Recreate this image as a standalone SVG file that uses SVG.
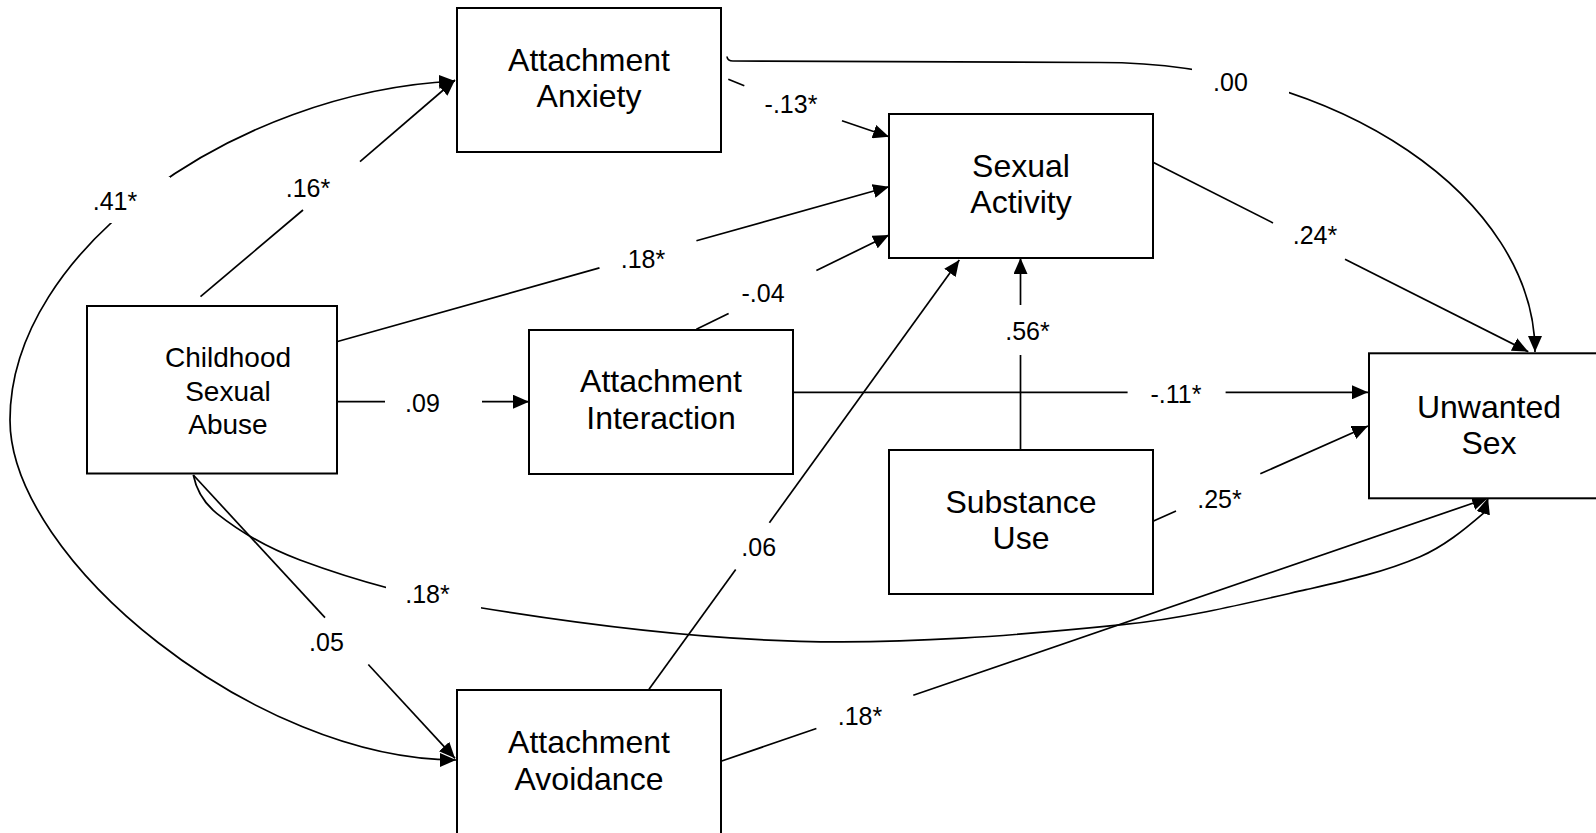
<svg xmlns="http://www.w3.org/2000/svg" width="1596" height="833" viewBox="0 0 1596 833">
<style>
.box{fill:#fff;stroke:#000;stroke-width:2}
.nt{font-family:"Liberation Sans",Arial,sans-serif;font-size:32px;text-anchor:middle;fill:#000}
.nt.sm{font-size:28px}
.lb{font-family:"Liberation Sans",Arial,sans-serif;font-size:25px;text-anchor:middle;fill:#000}
.c{fill:none;stroke:#000;stroke-width:1.7}
.c.a{marker-end:url(#arr)}
</style>
<defs>
<marker id="arr" markerUnits="userSpaceOnUse" markerWidth="16" markerHeight="14" refX="16" refY="7" orient="auto-start-reverse">
<path d="M0,0 L16,7 L0,14 z" fill="#000"/>
</marker>
<mask id="gaps" maskUnits="userSpaceOnUse" x="0" y="0" width="1596" height="833">
<rect x="0" y="0" width="1596" height="833" fill="#fff"/>
<rect x="100" y="177" width="70" height="46" fill="#000"/>
<rect x="1192" y="50" width="97" height="60" fill="#000"/>
<rect x="386" y="570" width="95" height="50" fill="#000"/>
</mask>
</defs>
<rect width="1596" height="833" fill="#fff"/>

<g id="connectors">
<g mask="url(#gaps)">
<path class="c" d="M455,81 C235,92 10,250 10,420 C10,560 256,760 456,760" marker-start="url(#arr)" marker-end="url(#arr)"/>
<path class="c a" d="M727,56.5 Q727.5,61 733,61 L1100,62.5 C1340,62.5 1535,200 1535,352"/>
<path class="c a" d="M193.3,475 C196.3,489.7 205,503.9 216.7,513.3 C241.6,533.1 270.2,548.9 300,560 C358.7,581.9 420.1,598 482,608 C587.2,625.1 693.4,638.5 800,641.3 C907.6,644.1 1015.4,635.6 1122.5,624.7 C1184.5,618.4 1245.3,603.6 1306,589.7 C1344.6,580.9 1383.6,572.3 1420,556.7 C1443.5,546.6 1463.9,530 1483.3,513.3 C1487.3,509.8 1486.4,503.1 1488,498"/>
</g>
<line class="c" x1="200.5" y1="296.7" x2="303" y2="210"/>
<line class="c a" x1="360" y1="161.7" x2="455" y2="80"/>
<line class="c" x1="728.3" y1="79.3" x2="744.3" y2="85.7"/>
<line class="c a" x1="842" y1="120.7" x2="889" y2="136.7"/>
<line class="c" x1="336.7" y1="341.7" x2="599.5" y2="267.9"/>
<line class="c a" x1="696.4" y1="240.8" x2="889" y2="186.7"/>
<line class="c" x1="696.4" y1="329.3" x2="728.6" y2="313.5"/>
<line class="c a" x1="816.4" y1="270.5" x2="889" y2="235"/>
<line class="c" x1="337" y1="401.7" x2="385" y2="401.7"/>
<line class="c a" x1="482" y1="401.7" x2="529" y2="401.7"/>
<line class="c" x1="793" y1="392.3" x2="1127.6" y2="392.3"/>
<line class="c a" x1="1225.6" y1="392.3" x2="1368" y2="392.3"/>
<line class="c" x1="1153" y1="162.3" x2="1273" y2="222.9"/>
<line class="c a" x1="1345" y1="259.2" x2="1528.3" y2="351.7"/>
<line class="c" x1="1020.5" y1="450" x2="1020.5" y2="355"/>
<line class="c a" x1="1020.5" y1="305" x2="1020.5" y2="258"/>
<line class="c" x1="1153" y1="521.3" x2="1176" y2="511"/>
<line class="c a" x1="1260.3" y1="473.8" x2="1368" y2="426"/>
<line class="c" x1="721" y1="761.3" x2="816.4" y2="728.5"/>
<line class="c a" x1="913.3" y1="695.3" x2="1488" y2="498"/>
<line class="c" x1="649" y1="689.3" x2="735.7" y2="569.4"/>
<line class="c a" x1="769.4" y1="522.7" x2="959.3" y2="260"/>
<line class="c" x1="193.3" y1="475" x2="325" y2="617.6"/>
<line class="c a" x1="368.3" y1="664.5" x2="455" y2="758.3"/>

<text class="lb" x="115" y="210">.41*</text>
<text class="lb" x="308" y="196.7">.16*</text>
<text class="lb" x="791" y="113">-.13*</text>
<text class="lb" x="1230.5" y="90.7">.00</text>
<text class="lb" x="643" y="268">.18*</text>
<text class="lb" x="763" y="301.5">-.04</text>
<text class="lb" x="1315" y="244">.24*</text>
<text class="lb" x="422.5" y="411.7">.09</text>
<text class="lb" x="1176" y="402.5">-.11*</text>
<text class="lb" x="1027.5" y="340">.56*</text>
<text class="lb" x="1219.5" y="508">.25*</text>
<text class="lb" x="758.7" y="556">.06</text>
<text class="lb" x="427.5" y="603">.18*</text>
<text class="lb" x="326.5" y="651">.05</text>
<text class="lb" x="860" y="725">.18*</text>
</g>

<g id="anxiety">
<rect class="box" x="457" y="8" width="264" height="144"/>
<text class="nt" x="589" y="71">Attachment</text>
<text class="nt" x="589" y="107">Anxiety</text>
</g>
<g id="sexual-activity">
<rect class="box" x="889" y="114" width="264" height="144"/>
<text class="nt" x="1021" y="177">Sexual</text>
<text class="nt" x="1021" y="213">Activity</text>
</g>
<g id="csa">
<rect class="box" x="87" y="306" width="250" height="167.5"/>
<text class="nt sm" x="228" y="366.5">Childhood</text>
<text class="nt sm" x="228" y="401">Sexual</text>
<text class="nt sm" x="228" y="433.5">Abuse</text>
</g>
<g id="interaction">
<rect class="box" x="529" y="330" width="264" height="144"/>
<text class="nt" x="661" y="392">Attachment</text>
<text class="nt" x="661" y="429">Interaction</text>
</g>
<g id="substance">
<rect class="box" x="889" y="450" width="264" height="144"/>
<text class="nt" x="1021" y="513">Substance</text>
<text class="nt" x="1021" y="549">Use</text>
</g>
<g id="unwanted">
<rect class="box" x="1369" y="353.3" width="264" height="145"/>
<text class="nt" x="1489" y="417.5">Unwanted</text>
<text class="nt" x="1489" y="454">Sex</text>
</g>
<g id="avoidance">
<rect class="box" x="457" y="690" width="264" height="144"/>
<text class="nt" x="589" y="753">Attachment</text>
<text class="nt" x="589" y="790">Avoidance</text>
</g>
</svg>
